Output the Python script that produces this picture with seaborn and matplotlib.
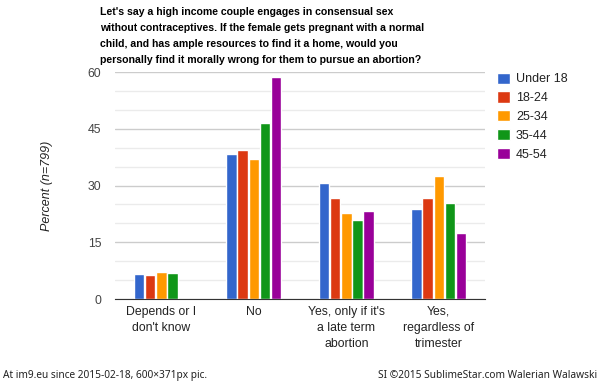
import matplotlib
matplotlib.use("Agg")
import matplotlib.pyplot as plt
import seaborn as sns
import pandas as pd
from matplotlib.ticker import MultipleLocator

# answers and age groups
answers = ["Depends or I\ndon't know", "No", "Yes, only if it's\na late term\nabortion",
           "Yes,\nregardless of\ntrimester"]
ages = ["Under 18", "18-24", "25-34", "35-44", "45-54"]

# percent per age group, one list per answer
depends = [6.7, 6.4, 7.2, 6.9, 0.0]
no = [38.2, 39.5, 36.9, 46.4, 58.8]
yes_late = [30.6, 26.7, 22.7, 20.9, 23.2]
yes_always = [23.8, 26.7, 32.4, 25.3, 17.4]

colors = ["#3366cc", "#dc3912", "#ff9900", "#109618", "#990099"]

title = ("Let's say a high income couple engages in consensual sex\n"
         "without contraceptives. If the female gets pregnant with a normal\n"
         "child, and has ample resources to find it a home, would you\n"
         "personally find it morally wrong for them to pursue an abortion?")

# long table for seaborn
rows = []
for answer, vals in zip(answers, [depends, no, yes_late, yes_always]):
    for age, v in zip(ages, vals):
        rows.append({"answer": answer, "age": age, "percent": v})
df = pd.DataFrame(rows)

sns.set_style("white")
plt.rcParams["font.family"] = ["Liberation Sans", "DejaVu Sans"]

fig = plt.figure(figsize=(6, 3.83), dpi=100)
ax = fig.add_axes([0.1917, 0.2193, 0.6167, 0.5927])

sns.barplot(data=df, x="answer", y="percent", hue="age", hue_order=ages,
            palette=colors, width=0.6, gap=0.05, saturation=1, ax=ax)

ax.set_ylim(0, 60)
ax.set_xlim(-0.5, 3.5)
ax.yaxis.set_major_locator(MultipleLocator(15))
ax.yaxis.set_minor_locator(MultipleLocator(5))
ax.grid(which="major", axis="y", color="#cccccc", linewidth=1)
ax.grid(which="minor", axis="y", color="#ebebeb", linewidth=1)
ax.set_axisbelow(True)
for s in ["top", "right", "left"]:
    ax.spines[s].set_visible(False)
ax.spines["bottom"].set_color("#333333")
ax.tick_params(axis="both", which="both", length=0, labelsize=8.8, colors="#222222")
ax.tick_params(axis="x", pad=5)
ax.tick_params(axis="y", pad=10, colors="#444444")
for lab in ax.get_xticklabels():
    lab.set_linespacing(1.45)
ax.set_xlabel("")
ax.set_ylabel("Percent (n=799)", fontsize=9, style="italic", color="#222222", labelpad=25)

# legend on the right
handles, labels = ax.get_legend_handles_labels()
ax.legend(handles, labels, loc="upper left", bbox_to_anchor=(0.81, 0.84),
          bbox_transform=fig.transFigure, frameon=False, fontsize=9,
          handlelength=1.0, handleheight=1.0, handletextpad=0.5, labelspacing=0.48,
          labelcolor="#222222")

fig.text(0.1667, 0.982, title, fontsize=7.6, fontweight="bold", ha="left", va="top",
         linespacing=1.75, color="#000000")

# footer
fig.text(0.005, 0.004, "At im9.eu since 2015-02-18, 600\u00d7371px pic.", fontsize=7.3,
         color="#222222", ha="left", va="bottom", fontweight="semibold",
         family=["Noto Sans", "DejaVu Sans"])
fig.text(0.995, 0.004, "SI \u00a92015 SublimeStar.com Walerian Walawski", fontsize=7.3,
         color="#222222", ha="right", va="bottom", fontweight="semibold",
         family=["Noto Sans", "DejaVu Sans"])

fig.savefig("out.png", dpi=100)
